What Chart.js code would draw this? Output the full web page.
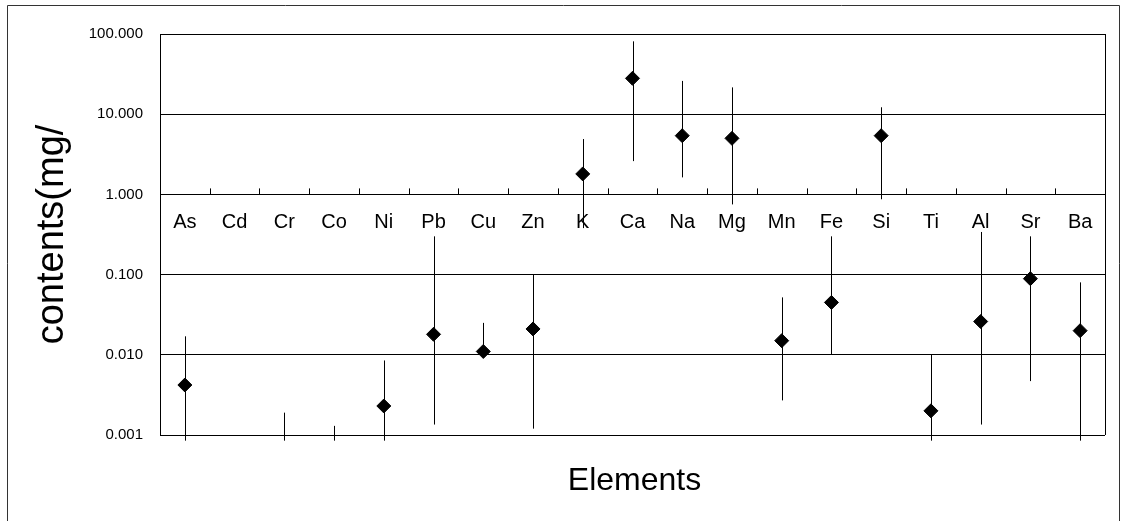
<!DOCTYPE html>
<html>
<head>
<meta charset="utf-8">
<script src="https://cdn.jsdelivr.net/npm/chart.js@4.4.1/dist/chart.umd.min.js"></script>
<style>
  body { margin: 0; background: #fff; }
  #wrap { width: 1121px; height: 521px; position: relative; }
</style>
</head>
<body>
<div id="wrap"><canvas id="chart"></canvas></div>
<script>
// ---------------------------- Data ----------------------------
const elements = ['As', 'Cd', 'Cr', 'Co', 'Ni', 'Pb', 'Cu', 'Zn', 'K', 'Ca',
                  'Na', 'Mg', 'Mn', 'Fe', 'Si', 'Ti', 'Al', 'Sr', 'Ba'];
const means = [0.0042, null, null, null, 0.0023, 0.018, 0.011, 0.021, 1.8, 28,
               5.4, 5.0, 0.015, 0.045, 5.4, 0.002, 0.026, 0.089, 0.020];
const maxs = [0.017, null, 0.0019, 0.0013, 0.0085, 0.30, 0.025, 0.10, 4.9, 81,
              26, 21.6, 0.052, 0.30, 12.2, 0.010, 0.34, 0.30, 0.080];
const mins = [0.00085, null, 0.00085, 0.00085, 0.00085, 0.00135, 0.0098, 0.0012, 0.38, 2.6,
              1.63, 0.75, 0.0027, 0.010, 0.87, 0.00085, 0.00135, 0.0047, 0.00085];
const yTicks = [0.001, 0.01, 0.1, 1, 10, 100];

const FONT = '"Liberation Sans", Arial, sans-serif';

// range lines, frame, x tick marks and x title
const rangePlugin = {
    id: 'rangePlugin',
    beforeDraw(chart) {
        const ctx = chart.ctx;
        ctx.save();
        ctx.strokeStyle = '#333';
        ctx.lineWidth = 1;
        ctx.beginPath();
        ctx.moveTo(7.5, chart.height);
        ctx.lineTo(7.5, 5.5);
        ctx.lineTo(chart.width - 1.5, 5.5);
        ctx.lineTo(chart.width - 1.5, chart.height);
        ctx.stroke();
        ctx.restore();
    },
    beforeDatasetsDraw(chart) {
        const ctx = chart.ctx;
        const xs = chart.scales.x;
        const ys = chart.scales.y;
        const area = chart.chartArea;
        ctx.save();
        ctx.strokeStyle = '#000';
        ctx.lineWidth = 1;

        // plot frame (right side)
        ctx.beginPath();
        ctx.moveTo(Math.round(area.right) + 0.5, area.top);
        ctx.lineTo(Math.round(area.right) + 0.5, area.bottom);
        ctx.stroke();

        // min-max lines
        elements.forEach((el, i) => {
            if (maxs[i] == null || mins[i] == null) return;
            const x = Math.round(xs.getPixelForValue(i)) + 0.5;
            ctx.beginPath();
            ctx.moveTo(x, ys.getPixelForValue(maxs[i]));
            ctx.lineTo(x, ys.getPixelForValue(mins[i]));
            ctx.stroke();
        });

        // small tick marks between categories, pointing up from the axis at 1
        const y1 = ys.getPixelForValue(1);
        const step = (xs.right - xs.left) / elements.length;
        ctx.beginPath();
        for (let i = 1; i < elements.length; i++) {
            const x = Math.round(xs.left + i * step) + 0.5;
            ctx.moveTo(x, y1);
            ctx.lineTo(x, y1 - 6);
        }
        ctx.stroke();
        ctx.restore();
    },
    afterDraw(chart) {
        const ctx = chart.ctx;
        const area = chart.chartArea;
        ctx.save();
        ctx.fillStyle = '#000';
        ctx.font = '32px ' + FONT;
        ctx.textAlign = 'center';
        ctx.textBaseline = 'middle';
        ctx.fillText('Elements', (area.left + area.right) / 2 + 2, 481);
        ctx.restore();
    }
};

new Chart(document.getElementById('chart'), {
    type: 'line',
    data: {
        labels: elements,
        datasets: [{
            label: 'mean',
            data: means,
            showLine: false,
            pointStyle: 'rectRot',
            pointRadius: 7,
            pointHoverRadius: 7,
            pointBackgroundColor: '#000',
            pointBorderColor: '#000',
            pointBorderWidth: 1
        }]
    },
    options: {
        responsive: true,
        maintainAspectRatio: false,
        animation: false,
        layout: { padding: { top: 34, right: 16, bottom: 86, left: 0 } },
        plugins: {
            legend: { display: false },
            tooltip: { enabled: false }
        },
        scales: {
            x: {
                type: 'category',
                offset: true,
                position: { y: 1 },
                grid: { display: false, drawTicks: false },
                border: { display: true, color: '#000', width: 1 },
                ticks: {
                    color: '#000',
                    font: { family: FONT, size: 20 },
                    padding: 16,
                    maxRotation: 0,
                    autoSkip: false
                }
            },
            y: {
                type: 'logarithmic',
                min: 0.001,
                max: 100,
                afterBuildTicks(scale) {
                    scale.ticks = yTicks.map(v => ({ value: v }));
                },
                afterFit(scale) {
                    scale.width = 160;
                },
                grid: { color: '#000', lineWidth: 1, drawTicks: false },
                border: { display: true, color: '#000', width: 1 },
                ticks: {
                    color: '#000',
                    font: { family: FONT, size: 15 },
                    padding: 17,
                    callback: v => Number(v).toFixed(3)
                },
                title: {
                    display: true,
                    text: 'contents(mg/',
                    color: '#000',
                    font: { family: FONT, size: 38 },
                    padding: { top: 30, bottom: 0 }
                }
            }
        }
    },
    plugins: [rangePlugin]
});
</script>
</body>
</html>
